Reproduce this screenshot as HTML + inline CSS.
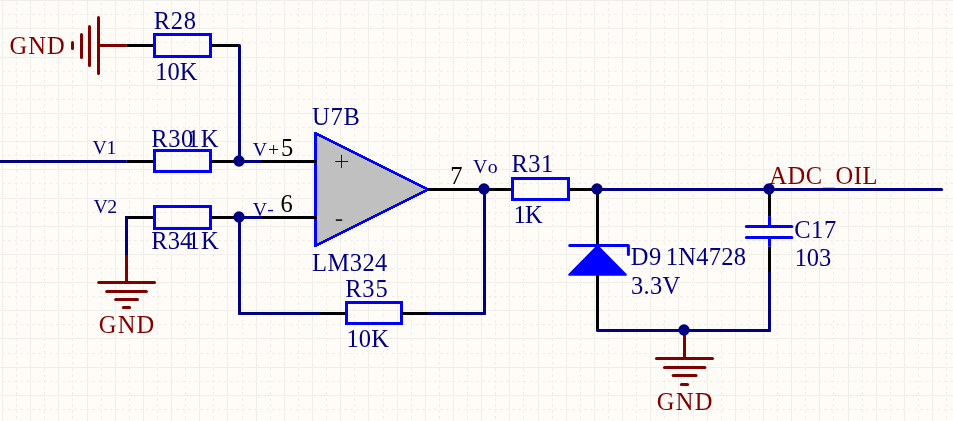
<!DOCTYPE html>
<html><head><meta charset="utf-8"><title>schematic</title>
<style>
html,body{margin:0;padding:0;background:#fffcf8;}
body{width:953px;height:421px;overflow:hidden;}
svg{display:block;font-family:"Liberation Serif",serif;}
</style></head><body>
<svg width="953" height="421" viewBox="0 0 953 421">
<rect width="953" height="421" fill="#fffcf8"/>
<path d="M16.5 0V421M44.5 0V421M72.5 0V421M101.5 0V421M129.5 0V421M157.5 0V421M185.5 0V421M213.5 0V421M242.5 0V421M270.5 0V421M298.5 0V421M326.5 0V421M354.5 0V421M383.5 0V421M411.5 0V421M439.5 0V421M467.5 0V421M495.5 0V421M523.5 0V421M552.5 0V421M580.5 0V421M608.5 0V421M636.5 0V421M664.5 0V421M693.5 0V421M721.5 0V421M749.5 0V421M777.5 0V421M805.5 0V421M833.5 0V421M862.5 0V421M890.5 0V421M918.5 0V421M946.5 0V421M0 14.5H953M0 42.5H953M0 71.5H953M0 99.5H953M0 127.5H953M0 155.5H953M0 183.5H953M0 212.5H953M0 240.5H953M0 268.5H953M0 296.5H953M0 324.5H953M0 353.5H953M0 381.5H953M0 409.5H953" fill="none" stroke="#eeefea" stroke-width="1" stroke-dasharray="3 3" stroke-dashoffset="4"/>
<path d="M2.5 0V421M30.5 0V421M58.5 0V421M87.5 0V421M115.5 0V421M143.5 0V421M171.5 0V421M199.5 0V421M227.5 0V421M256.5 0V421M284.5 0V421M312.5 0V421M340.5 0V421M368.5 0V421M397.5 0V421M425.5 0V421M453.5 0V421M481.5 0V421M509.5 0V421M538.5 0V421M566.5 0V421M594.5 0V421M622.5 0V421M650.5 0V421M678.5 0V421M707.5 0V421M735.5 0V421M763.5 0V421M791.5 0V421M819.5 0V421M848.5 0V421M876.5 0V421M904.5 0V421M932.5 0V421M0 0.5H953M0 28.5H953M0 57.5H953M0 85.5H953M0 113.5H953M0 141.5H953M0 169.5H953M0 198.5H953M0 226.5H953M0 254.5H953M0 282.5H953M0 310.5H953M0 338.5H953M0 367.5H953M0 395.5H953" fill="none" stroke="#eeefea" stroke-width="1"/>
<defs><filter id="ga" x="0" y="0" width="100%" height="100%" filterUnits="userSpaceOnUse" color-interpolation-filters="sRGB"><feOffset dx="0" dy="0"/></filter></defs>
<g filter="url(#ga)">
<text x="9.50" y="54" fill="#800000" font-size="24.5" letter-spacing="1.09">GND</text>
<text x="153.65" y="29" fill="#000080" font-size="24.5" letter-spacing="0.74">R28</text>
<text x="155.18" y="80" fill="#000080" font-size="24.5">10K</text>
<text x="92.45" y="154" fill="#000080" font-size="19.8" letter-spacing="-0.15">V1</text>
<text x="151.35" y="147" fill="#000080" font-size="24.5" letter-spacing="0.49">R30</text>
<text x="187.28" y="147" fill="#000080" font-size="24.5" letter-spacing="1.28">1K</text>
<text x="252.85" y="156" fill="#000080" font-size="19.8" letter-spacing="0.85">V+</text>
<text x="281.04" y="156" fill="#000000" font-size="24.5">5</text>
<text x="93.45" y="213" fill="#000080" font-size="19.8" letter-spacing="-0.58">V2</text>
<text x="151.25" y="249" fill="#000080" font-size="24.5" letter-spacing="0.12">R34</text>
<text x="187.47" y="249" fill="#000080" font-size="24.5" letter-spacing="1.38">1K</text>
<text x="252.85" y="216" fill="#000080" font-size="19.8" letter-spacing="1.97">V<tspan dy="-1">-</tspan></text>
<text x="280.60" y="212" fill="#000000" font-size="24.5">6</text>
<text x="98.80" y="333" fill="#800000" font-size="24.5" letter-spacing="1.14">GND</text>
<text x="312.10" y="125" fill="#000080" font-size="24.5" letter-spacing="0.79">U7B</text>
<text x="311.95" y="271" fill="#000080" font-size="24.5" letter-spacing="0.48">LM324</text>
<text x="345.15" y="297" fill="#000080" font-size="24.5" letter-spacing="0.84">R35</text>
<text x="346.38" y="347" fill="#000080" font-size="24.5" letter-spacing="0.21">10K</text>
<text x="450.19" y="184" fill="#000000" font-size="24.5">7</text>
<text x="472.95" y="173" fill="#000080" font-size="19.8" letter-spacing="3.18">Vo</text>
<text x="511.55" y="172" fill="#000080" font-size="24.5" letter-spacing="0.44">R31</text>
<text x="513.58" y="223" fill="#000080" font-size="24.5" letter-spacing="-0.73">1K</text>
<text x="630.65" y="265" fill="#000080" font-size="24.5" letter-spacing="0.77">D9</text>
<text x="665.77" y="265" fill="#000080" font-size="24.5" letter-spacing="0.27">1N4728</text>
<text x="630.88" y="294" fill="#000080" font-size="24.5" letter-spacing="0.34">3.3V</text>
<text x="794.20" y="238" fill="#000080" font-size="24.5" letter-spacing="0.59">C17</text>
<text x="794.77" y="266" fill="#000080" font-size="24.5" letter-spacing="-0.16">103</text>
<text x="769.15" y="184" fill="#800000" font-size="24.5" letter-spacing="0.58">ADC<tspan dy="1" fill-opacity="0.3">_</tspan><tspan dy="-1">OIL</tspan></text>
<text x="656.80" y="410" fill="#800000" font-size="24.5" letter-spacing="1.29">GND</text>
</g>
<polygon points="315.5,133.25 428.0,189.5 315.5,245.75" fill="#c0c0c0" stroke="#0000ff" stroke-width="2.7" stroke-linejoin="round" shape-rendering="crispEdges"/>
<line x1="315.5" y1="132.6" x2="315.5" y2="246.4" stroke="#0000ff" stroke-width="3" stroke-linecap="butt"/>
<line x1="72.5" y1="42.6" x2="72.5" y2="48.4" stroke="#800000" stroke-width="3" stroke-linecap="round"/>
<line x1="81.5" y1="34.6" x2="81.5" y2="57.4" stroke="#800000" stroke-width="3" stroke-linecap="round"/>
<line x1="89.5" y1="26.6" x2="89.5" y2="65.4" stroke="#800000" stroke-width="3" stroke-linecap="round"/>
<line x1="98.5" y1="17.6" x2="98.5" y2="73.4" stroke="#800000" stroke-width="3" stroke-linecap="round"/>
<line x1="98.5" y1="45.5" x2="126.8" y2="45.5" stroke="#800000" stroke-width="3" stroke-linecap="butt"/>
<line x1="126.8" y1="45.5" x2="154" y2="45.5" stroke="#000000" stroke-width="3" stroke-linecap="butt"/>
<line x1="211" y1="45.5" x2="239.5" y2="45.5" stroke="#000000" stroke-width="3" stroke-linecap="butt"/>
<rect x="154.5" y="34.5" width="56.0" height="22.0" fill="none" stroke="#0000ff" stroke-width="3"/>
<line x1="239.5" y1="45.5" x2="239.5" y2="161.5" stroke="#000080" stroke-width="3" stroke-linecap="round"/>
<line x1="0" y1="161.5" x2="126.8" y2="161.5" stroke="#000080" stroke-width="3" stroke-linecap="butt"/>
<line x1="126.8" y1="161.5" x2="154" y2="161.5" stroke="#000000" stroke-width="3" stroke-linecap="butt"/>
<rect x="154.5" y="150.5" width="56.0" height="21.0" fill="none" stroke="#0000ff" stroke-width="3"/>
<line x1="211" y1="161.5" x2="239.5" y2="161.5" stroke="#000000" stroke-width="3" stroke-linecap="butt"/>
<line x1="239.5" y1="161.5" x2="261" y2="161.5" stroke="#000080" stroke-width="3" stroke-linecap="butt"/>
<line x1="261" y1="161.5" x2="316.8" y2="161.5" stroke="#000000" stroke-width="3" stroke-linecap="butt"/>
<circle cx="239.0" cy="161.0" r="5.65" fill="#000080"/>
<line x1="125" y1="217.5" x2="154" y2="217.5" stroke="#000000" stroke-width="3" stroke-linecap="butt"/>
<rect x="154.5" y="206.5" width="56.0" height="22.0" fill="none" stroke="#0000ff" stroke-width="3"/>
<line x1="211" y1="217.5" x2="239.5" y2="217.5" stroke="#000000" stroke-width="3" stroke-linecap="butt"/>
<line x1="239.5" y1="217.5" x2="261" y2="217.5" stroke="#000080" stroke-width="3" stroke-linecap="butt"/>
<line x1="261" y1="217.5" x2="316.8" y2="217.5" stroke="#000000" stroke-width="3" stroke-linecap="butt"/>
<line x1="126.5" y1="217.5" x2="126.5" y2="255" stroke="#000080" stroke-width="3" stroke-linecap="round"/>
<line x1="126.5" y1="255" x2="126.5" y2="282.5" stroke="#800000" stroke-width="3" stroke-linecap="butt"/>
<line x1="98.7" y1="282.5" x2="154.5" y2="282.5" stroke="#800000" stroke-width="3" stroke-linecap="round"/>
<line x1="106.7" y1="291.5" x2="146.4" y2="291.5" stroke="#800000" stroke-width="3" stroke-linecap="round"/>
<line x1="115.6" y1="299.5" x2="137.5" y2="299.5" stroke="#800000" stroke-width="3" stroke-linecap="round"/>
<line x1="123.4" y1="307.5" x2="129.6" y2="307.5" stroke="#800000" stroke-width="3" stroke-linecap="round"/>
<line x1="239.5" y1="217.5" x2="239.5" y2="313.5" stroke="#000080" stroke-width="3" stroke-linecap="round"/>
<line x1="239.5" y1="313.5" x2="320" y2="313.5" stroke="#000080" stroke-width="3" stroke-linecap="round"/>
<line x1="320" y1="313.5" x2="346" y2="313.5" stroke="#000000" stroke-width="3" stroke-linecap="butt"/>
<circle cx="239.0" cy="217.0" r="5.65" fill="#000080"/>
<rect x="346.5" y="302.5" width="55.0" height="21.0" fill="none" stroke="#0000ff" stroke-width="3"/>
<line x1="402" y1="313.5" x2="429" y2="313.5" stroke="#000000" stroke-width="3" stroke-linecap="butt"/>
<line x1="429" y1="313.5" x2="484.5" y2="313.5" stroke="#000080" stroke-width="3" stroke-linecap="round"/>
<line x1="484.5" y1="313.5" x2="484.5" y2="189.5" stroke="#000080" stroke-width="3" stroke-linecap="round"/>
<line x1="335.6" y1="161.5" x2="347.8" y2="161.5" stroke="#181818" stroke-width="1" stroke-linecap="round"/>
<line x1="341.5" y1="155.2" x2="341.5" y2="167.6" stroke="#181818" stroke-width="1" stroke-linecap="round"/>
<line x1="335.8" y1="220.1" x2="342.2" y2="220.1" stroke="#101010" stroke-width="1.6" stroke-linecap="butt"/>
<line x1="428.2" y1="189.5" x2="511" y2="189.5" stroke="#000000" stroke-width="3" stroke-linecap="butt"/>
<circle cx="484.0" cy="189.0" r="5.65" fill="#000080"/>
<rect x="512.5" y="178.5" width="56.0" height="21.0" fill="none" stroke="#0000ff" stroke-width="3"/>
<line x1="569" y1="189.5" x2="597.5" y2="189.5" stroke="#000000" stroke-width="3" stroke-linecap="butt"/>
<line x1="597.5" y1="189.5" x2="941.6" y2="189.5" stroke="#000080" stroke-width="3" stroke-linecap="round"/>
<line x1="597.5" y1="189.5" x2="597.5" y2="330.5" stroke="#000000" stroke-width="3" stroke-linecap="butt"/>
<circle cx="597.0" cy="189.0" r="5.65" fill="#000080"/>
<polygon points="597.5,246 625.8,274.7 569.2,274.7" fill="#0000ff" stroke="#0000ff" stroke-width="2" stroke-linejoin="round"/>
<polyline points="569.7,245.5 628.4,245.5 628.4,254.4" fill="none" stroke="#0000ff" stroke-width="3" stroke-linecap="round" stroke-linejoin="round"/>
<line x1="597.5" y1="330.5" x2="769.5" y2="330.5" stroke="#000080" stroke-width="3" stroke-linecap="round"/>
<line x1="769.5" y1="330.5" x2="769.5" y2="272" stroke="#000080" stroke-width="3" stroke-linecap="round"/>
<line x1="769.5" y1="272" x2="769.5" y2="246.7" stroke="#000000" stroke-width="3" stroke-linecap="butt"/>
<line x1="769.5" y1="246.7" x2="769.5" y2="237.5" stroke="#0000ff" stroke-width="3" stroke-linecap="butt"/>
<line x1="769.5" y1="226.5" x2="769.5" y2="216.1" stroke="#0000ff" stroke-width="3" stroke-linecap="butt"/>
<line x1="769.5" y1="216.1" x2="769.5" y2="189.5" stroke="#000000" stroke-width="3" stroke-linecap="butt"/>
<line x1="746.4" y1="226.5" x2="791.8" y2="226.5" stroke="#0000ff" stroke-width="3" stroke-linecap="round"/>
<line x1="746.4" y1="237.5" x2="791.8" y2="237.5" stroke="#0000ff" stroke-width="3" stroke-linecap="round"/>
<circle cx="769.0" cy="189.0" r="5.65" fill="#000080"/>
<line x1="684.5" y1="330.5" x2="684.5" y2="358.5" stroke="#800000" stroke-width="3" stroke-linecap="butt"/>
<circle cx="684.0" cy="330.0" r="5.65" fill="#000080"/>
<line x1="656.5" y1="358.5" x2="712.5" y2="358.5" stroke="#800000" stroke-width="3" stroke-linecap="round"/>
<line x1="664.5" y1="367.5" x2="704.9" y2="367.5" stroke="#800000" stroke-width="3" stroke-linecap="round"/>
<line x1="673.2" y1="375.5" x2="696.0" y2="375.5" stroke="#800000" stroke-width="3" stroke-linecap="round"/>
<line x1="681.4" y1="384.5" x2="687.6" y2="384.5" stroke="#800000" stroke-width="3" stroke-linecap="round"/>
</svg>
</body></html>
